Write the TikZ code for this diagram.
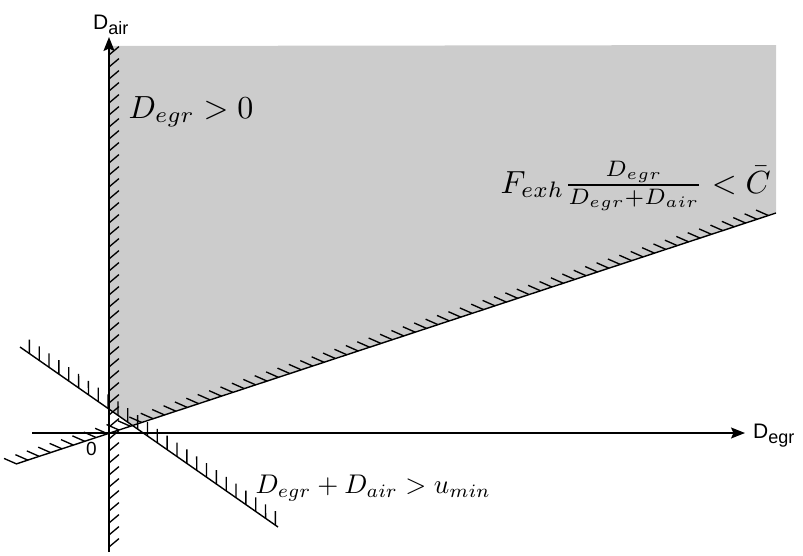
\documentclass[tikz,border=0pt]{standalone}
\usepackage{fontspec}
\newfontfamily\lab{Liberation Sans}
\usetikzlibrary{decorations.markings,arrows.meta}
\definecolor{regiongray}{RGB}{204,204,204}
\tikzset{
  axisline/.style={line width=1.4pt,-{Stealth[length=14pt,width=11pt,inset=2.5pt]}},
  bound/.style={line width=1.4pt},
  hatchline/.style n args={2}{postaction={decorate,decoration={markings,
      mark=between positions 0.01 and 1 step 12pt with {\draw[line width=1.35pt,line cap=butt] (0,0) -- (#1:#2);}}}},
  mathlabel/.style={anchor=base west,inner sep=0pt},
  sanslabel/.style={anchor=base west,inner sep=0pt,font=\lab\fontsize{21}{24}\selectfont},
}
\newcommand{\subsans}[1]{\raisebox{-5pt}{\fontsize{18}{21}\selectfont #1}}
\begin{document}
\begin{tikzpicture}[x=1pt,y=-1pt]
\useasboundingbox (0,0) rectangle (803,555);
% key points
\coordinate (O) at (109,433);
\coordinate (yb) at (109,552);
\coordinate (yt) at (109,37);
\coordinate (yh) at (109,47);
\coordinate (xl) at (32,433);
\coordinate (xr) at (745,433);
\coordinate (f1) at (776,213);
\coordinate (f2) at (16,464);
\coordinate (u1) at (278,527);
\coordinate (u2) at (20,347);
\coordinate (g1) at (109,46);
\coordinate (g2) at (776,45);
\coordinate (g3) at (132,425);
\coordinate (g4) at (109,409);
% feasible region
\fill[regiongray] (g1) -- (g2) -- (f1) -- (g3) -- (g4) -- cycle;
% constraint lines
\path[hatchline={-50}{13pt}] (yb) -- (yh);
\draw[bound,hatchline={-42}{13.5pt}] (f1) -- (f2);
\draw[bound,hatchline={-55}{14pt}] (u1) -- (u2);
% axes
\draw[axisline] (xl) -- (xr);
\draw[axisline] (yb) -- (yt);
% labels
\node[sanslabel] (dair) at (93,29) {D\subsans{air}};
\node[sanslabel] (degr) at (753,438) {D\subsans{egr}};
\node[sanslabel,font=\lab\fontsize{19}{22}\selectfont] (zero) at (86,455) {0};
\node[mathlabel,scale=3.2] (c1) at (128,118) {$D_{egr}>0$};
\node[mathlabel,scale=3.2] (c2) at (500,193) {$F_{exh}\frac{D_{egr}}{D_{egr}+D_{air}}<\bar{C}$};
\node[mathlabel,scale=2.7] (c3) at (255,493) {$D_{egr}+D_{air}>u_{min}$};
\end{tikzpicture}
\end{document}
